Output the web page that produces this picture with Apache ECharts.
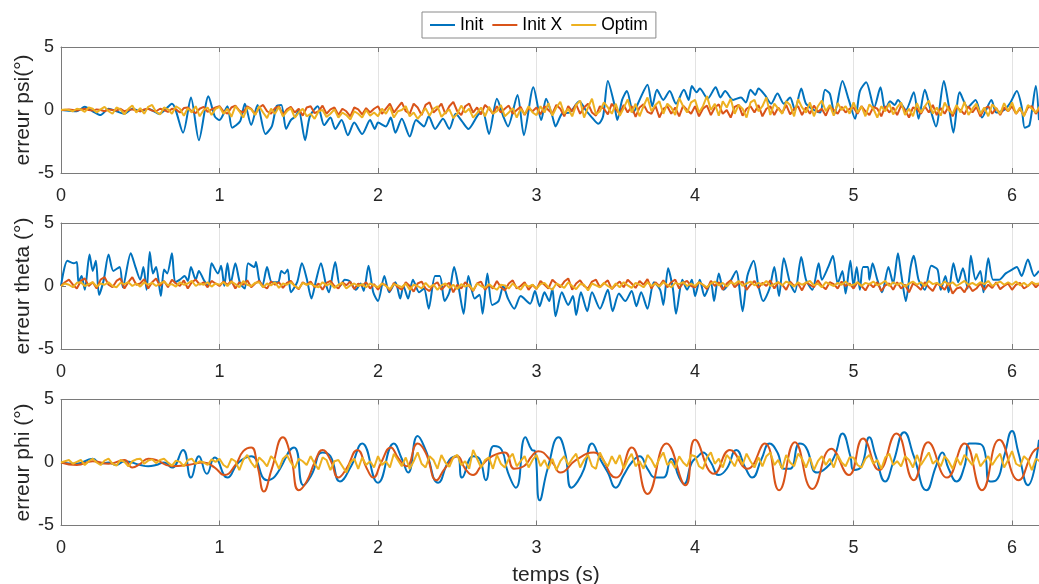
<!DOCTYPE html>
<html>
<head>
<meta charset="utf-8">
<script src="https://cdn.jsdelivr.net/npm/echarts@6/dist/echarts.min.js"></script>
<style>html,body{margin:0;padding:0;background:#fff}#c{width:1039px;height:584px}</style>
</head>
<body>
<div id="c"></div>
<script>
// ---- data ----
const seriesNames = ['Init', 'Init X', 'Optim'];
const panelLabels = ['erreur psi(°)', 'erreur theta (°)', 'erreur phi (°)'];
const xLabel = 'temps (s)';
const xTicks = [0, 1, 2, 3, 4, 5, 6];
const yTicks = [-5, 0, 5];
const xMax = 6.17;
const noiseStep = 0.025; // sampling of the noisy traces: one row per second, 40 values per row

// Init, psi : [t, value] at turning points
const psiInit = [[0,0],[0.1,-0.1],[0.15,0.25],[0.2,-0.1],[0.25,-0.4],[0.3,0.1],[0.35,-0.1],[0.4,-0.3],[0.45,0.1],[0.5,-0.1],[0.55,0.1],[0.62,-0.3],[0.7,0.5],[0.77,-1.8],[0.82,1.0],[0.87,-2.4],[0.93,1.1],[0.97,-0.5],[1.0,-0.8],[1.05,0.3],[1.08,-1.4],[1.13,-0.9],[1.16,0.5],[1.2,-1.2],[1.24,0.4],[1.29,-1.9],[1.33,-1.3],[1.36,0.3],[1.39,0.4],[1.42,-1.5],[1.45,-0.8],[1.48,-0.5],[1.5,0.0],[1.54,-2.4],[1.57,-0.5],[1.62,0.3],[1.66,-1.2],[1.7,-0.6],[1.73,-1.5],[1.77,-0.8],[1.81,-2.0],[1.85,-1.0],[1.9,-1.9],[1.95,-0.8],[1.98,-1.5],[2.0,-1.0],[2.05,-1.3],[2.08,-0.6],[2.11,-1.8],[2.15,-0.7],[2.2,-2.1],[2.24,-0.8],[2.29,-1.3],[2.32,-0.5],[2.36,-1.5],[2.41,-0.7],[2.45,-1.5],[2.49,-0.3],[2.53,-0.9],[2.57,-1.5],[2.63,-0.4],[2.66,-0.1],[2.7,-1.9],[2.75,0.9],[2.79,-0.5],[2.82,-1.3],[2.88,1.2],[2.92,-2.0],[2.98,1.8],[3.03,-0.8],[3.06,0.9],[3.1,-0.5],[3.12,-1.3],[3.16,-0.3],[3.21,-0.2],[3.27,0.7],[3.31,0.0],[3.35,-0.6],[3.39,-1.1],[3.42,-0.5],[3.45,2.3],[3.49,0.5],[3.51,-0.8],[3.54,0.8],[3.57,1.5],[3.61,-0.2],[3.65,0.8],[3.7,2.0],[3.73,0.3],[3.76,1.6],[3.8,0.8],[3.84,1.5],[3.88,0.5],[3.93,1.6],[3.96,0.8],[3.98,1.9],[4.01,1.4],[4.03,1.7],[4.08,0.9],[4.13,1.8],[4.16,1.0],[4.19,1.5],[4.24,0.8],[4.29,1.0],[4.32,0.6],[4.35,1.6],[4.38,1.2],[4.4,1.7],[4.44,1.2],[4.48,0.5],[4.52,1.3],[4.56,0.5],[4.6,1.0],[4.63,0.0],[4.67,1.7],[4.7,0.5],[4.75,0.0],[4.79,-0.2],[4.82,1.6],[4.85,1.3],[4.88,-0.3],[4.93,2.3],[4.97,0.8],[5.01,-0.7],[5.04,1.5],[5.08,2.2],[5.13,0.2],[5.17,1.8],[5.2,0.0],[5.23,0.7],[5.26,0.4],[5.28,0.8],[5.33,0.0],[5.38,1.4],[5.41,-0.7],[5.45,1.6],[5.48,0.3],[5.52,-1.3],[5.57,2.3],[5.6,0.4],[5.63,-1.8],[5.67,1.4],[5.72,0.2],[5.77,0.8],[5.81,-0.6],[5.87,0.8],[5.9,-0.2],[5.95,0.0],[5.99,0.6],[6.03,1.5],[6.06,0.3],[6.08,-1.4],[6.11,-1.2],[6.15,1.9],[6.17,-0.8]];

// Init X, psi : one row per second, noiseStep apart
const psiInitX = [
[0,0,0.05,0,-0.05,0.05,0.1,0,-0.05,0.05,0,-0.1,0.05,0,-0.05,0.1,-0.1,0,0.05,-0.05,-0.1,0.05,0.1,-0.05,-0.1,0.1,0,-0.15,0.1,0.05,-0.2,0.15,0.2,-0.1,-0.25,0.1,0.25,-0.15,0.05,0.2],
[0.3,-0.1,-0.3,0.2,0.35,-0.05,-0.2,0.3,0.1,-0.35,0.2,0.4,-0.1,-0.3,0.15,0.3,-0.4,0.05,0.25,-0.2,0.1,-0.45,0.2,0.3,-0.25,-0.1,0.35,-0.3,0.05,0.2,-0.4,0.1,-0.1,-0.5,0.2,0.05,-0.35,0.15,-0.2,0.1],
[0.3,-0.3,0.1,0.5,-0.2,0.2,0.6,-0.1,-0.3,0.5,0.2,-0.4,0.4,0.6,-0.2,0.1,0.5,-0.3,0.3,0.65,-0.1,-0.4,0.3,0.5,-0.2,0.2,-0.35,0.4,0.1,-0.3,0.3,-0.2,0.1,0.35,-0.3,0.0,0.25,-0.4,0.15,-0.1],
[0.2,-0.35,0.3,0.0,-0.3,0.4,0.1,-0.5,0.3,-0.1,0.45,-0.3,0.2,0.5,-0.2,-0.45,0.3,0.1,-0.35,0.5,0.05,-0.3,0.4,-0.2,0.3,-0.55,0.2,0.45,-0.15,-0.3,0.35,-0.6,0.1,0.3,-0.3,0.2,-0.5,0.35,0.0,-0.3],
[0.3,-0.5,0.1,0.35,-0.4,0.2,0.45,-0.3,0.0,-0.6,0.25,0.4,-0.45,0.1,0.3,-0.2,0.4,-0.5,0.1,0.3,-0.4,0.2,-0.25,0.4,-0.35,0.1,0.3,-0.4,0.2,-0.3,0.35,-0.15,0.1,-0.45,0.3,0.0,-0.3,0.25,-0.2,0.1],
[0.2,-0.3,0.3,-0.1,-0.4,0.25,0.1,-0.5,0.3,-0.2,0.2,-0.4,0.35,0.0,-0.6,0.2,0.1,-0.3,0.3,-0.2,0.4,-0.4,0.15,-0.3,0.3,-0.5,0.2,0.0,-0.35,0.3,-0.2,0.25,-0.5,0.1,0.3,-0.3,0.15,-0.4,0.2,-0.1],
[0.3,-0.3,0.1,-0.45,0.2,0.3,-0.3,0.1]];

// Optim, psi
const psiOptim = [
[0,0.05,0,-0.1,0.1,0.05,-0.15,0.2,0.1,-0.2,0.05,0.25,-0.1,-0.3,0.2,0.05,-0.35,0.1,0.35,-0.2,0.15,-0.3,0.25,0.4,-0.15,-0.35,0.2,0.05,-0.3,0.3,0.1,-0.45,0.15,-0.2,0.3,-0.5,0.0,0.2,-0.4,0.1],
[0.25,-0.3,0.1,-0.55,0.3,-0.1,-0.6,0.2,0.05,-0.4,0.3,-0.2,-0.65,0.1,-0.3,0.25,-0.5,-0.1,0.15,-0.6,-0.2,0.1,-0.5,-0.3,-0.7,-0.1,0.0,-0.55,-0.3,0.05,-0.6,-0.2,-0.4,-0.75,-0.1,-0.3,-0.6,0.0,-0.45,-0.2],
[-0.5,0.1,-0.3,0.25,-0.6,-0.1,0.0,0.3,-0.5,-0.2,-0.7,-0.3,0.15,-0.45,0.1,0.3,-0.55,-0.2,0.05,-0.65,-0.3,0.35,-0.2,0.1,-0.6,-0.25,0.2,-0.5,0.25,-0.3,-0.1,0.4,-0.5,-0.2,0.15,-0.6,0.1,-0.35,0.3,-0.2],
[-0.4,0.3,-0.2,0.55,-0.45,0.2,0.65,-0.3,0.1,-0.5,0.4,0.75,-0.6,0.2,0.9,-0.35,-0.1,0.6,0.2,-0.3,0.5,-0.45,0.15,0.85,-0.2,0.5,-0.5,0.3,1.0,-0.1,0.4,0.7,-0.3,0.5,0.2,-0.4,0.95,0.3,-0.2,0.6],
[0.8,-0.2,0.3,1.1,0.0,0.5,-0.45,0.7,0.2,0.9,-0.3,0.4,0.1,-0.6,0.6,0.8,-0.1,0.3,1.0,-0.4,0.5,0.1,-0.3,0.7,0.4,-0.5,0.85,0.2,-0.2,0.6,-0.5,0.3,0.75,-0.1,0.4,-0.45,0.55,0.0,0.3,-0.3],
[0.6,-0.2,0.3,-0.5,0.45,0.1,-0.6,0.3,-0.1,0.5,-0.35,0.2,0.6,-0.4,0.1,-0.5,0.55,-0.2,0.3,0.75,-0.3,0.2,-0.45,0.6,0.0,-0.3,0.4,-0.2,0.65,-0.4,0.1,0.5,-0.3,0.2,-0.5,0.45,0.1,-0.3,0.55,-0.1],
[0.6,-0.3,0.2,-0.5,0.4,0.1,-0.2,0.3]];

// Init, theta : [t, value] at turning points
const thetaInit = [[0,0],[0.04,2.0],[0.08,1.8],[0.1,1.9],[0.11,0.3],[0.13,0.8],[0.15,-0.3],[0.18,2.5],[0.2,1.2],[0.22,2.0],[0.24,-0.7],[0.27,0.5],[0.3,2.5],[0.33,1.2],[0.37,1.5],[0.39,-0.1],[0.44,2.6],[0.47,1.5],[0.5,0.5],[0.52,1.5],[0.54,-0.3],[0.56,2.7],[0.58,1.0],[0.6,1.5],[0.63,-0.8],[0.65,1.3],[0.67,1.0],[0.7,2.6],[0.72,0.3],[0.75,0.5],[0.78,0.8],[0.8,0.4],[0.82,1.5],[0.85,0.5],[0.87,1.2],[0.9,0.5],[0.93,0.0],[0.95,1.8],[0.99,1.0],[1.01,1.6],[1.03,0.0],[1.05,1.8],[1.07,0.2],[1.1,1.8],[1.13,0.2],[1.16,-0.2],[1.18,1.8],[1.22,1.5],[1.23,1.9],[1.25,0.5],[1.27,0.0],[1.3,1.5],[1.33,0.3],[1.37,0.3],[1.39,1.2],[1.41,1.0],[1.43,1.3],[1.45,-0.5],[1.49,0.3],[1.52,1.8],[1.55,0.6],[1.58,-1.0],[1.61,0.5],[1.64,1.8],[1.67,0.2],[1.69,-0.5],[1.73,1.9],[1.76,0.0],[1.79,0.5],[1.82,0.4],[1.86,-0.3],[1.89,0.2],[1.91,-0.4],[1.94,1.6],[1.97,-0.5],[2.0,-1.2],[2.04,0.8],[2.07,-0.5],[2.11,0.3],[2.14,-1.0],[2.16,0.0],[2.19,-1.0],[2.22,0.5],[2.26,-0.5],[2.29,-0.2],[2.32,-1.8],[2.36,0.8],[2.39,0.8],[2.42,-1.2],[2.45,-0.5],[2.48,1.5],[2.51,-0.2],[2.54,-2.2],[2.57,0.8],[2.61,-1.0],[2.64,-0.7],[2.66,-2.2],[2.69,1.0],[2.72,-1.5],[2.76,-1.2],[2.79,0.0],[2.82,-1.0],[2.86,-1.8],[2.9,-0.8],[2.96,-1.4],[2.99,-0.4],[3.02,-1.6],[3.05,-0.5],[3.08,-1.2],[3.1,-0.2],[3.12,-2.4],[3.16,-0.5],[3.2,-1.5],[3.23,-0.8],[3.25,-2.3],[3.28,-0.5],[3.32,-2.0],[3.35,-0.5],[3.4,-1.8],[3.45,-0.3],[3.48,-2.0],[3.52,-0.6],[3.56,-1.2],[3.6,-0.4],[3.63,-1.6],[3.66,-0.5],[3.7,-1.8],[3.74,0.3],[3.78,-0.3],[3.8,-1.5],[3.83,1.4],[3.86,-0.2],[3.88,-2.2],[3.92,0.5],[3.95,-0.3],[3.98,0.5],[4.0,-0.8],[4.03,0.5],[4.06,-0.8],[4.1,0.3],[4.12,-1.2],[4.15,1.0],[4.18,-0.3],[4.22,0.3],[4.26,1.2],[4.3,-2.0],[4.33,0.8],[4.37,2.0],[4.4,0.0],[4.43,-1.2],[4.47,-0.2],[4.5,1.5],[4.53,-0.8],[4.56,2.2],[4.6,0.2],[4.63,-0.5],[4.67,2.3],[4.7,0.5],[4.74,-0.3],[4.78,1.8],[4.8,0.5],[4.84,1.5],[4.87,2.4],[4.9,0.2],[4.93,1.2],[4.95,-0.6],[4.98,2.0],[5.0,0.0],[5.02,1.5],[5.04,-0.3],[5.06,1.5],[5.09,1.5],[5.1,0.5],[5.12,1.8],[5.15,0.5],[5.18,-0.5],[5.22,1.5],[5.25,0.2],[5.28,2.6],[5.3,1.0],[5.33,-1.2],[5.36,1.5],[5.38,2.4],[5.41,0.5],[5.45,-0.3],[5.49,1.6],[5.53,1.3],[5.55,-0.3],[5.58,0.8],[5.6,-0.5],[5.63,1.8],[5.66,0.3],[5.69,1.4],[5.72,-0.2],[5.74,2.4],[5.77,0.5],[5.8,1.2],[5.82,-0.5],[5.85,2.2],[5.88,0.5],[5.92,0.5],[5.96,1.0],[6.0,1.3],[6.03,1.5],[6.06,0.8],[6.1,2.1],[6.14,0.8],[6.17,1.2]];

// Init X, theta
const thetaInitX = [
[0,0.3,0.5,0.1,-0.2,0.4,0.6,0.0,0.3,-0.2,0.5,0.7,0.1,-0.1,0.4,0.6,-0.2,0.3,0.7,0.1,0.2,0.55,-0.2,0.3,0.6,0.0,0.4,-0.1,0.5,0.2,0.0,0.45,-0.2,0.3,0.5,0.1,0.3,-0.1,0.4,0.2],
[0.0,0.35,0.1,0.4,-0.2,0.3,0.1,0.45,-0.1,0.2,0.4,0.0,-0.2,0.35,0.1,0.3,-0.15,0.25,0.4,0.0,-0.25,0.3,0.1,0.35,-0.1,0.2,-0.3,0.25,0.4,0.0,-0.2,0.3,0.05,0.35,-0.25,0.2,0.0,0.3,-0.2,0.15],
[-0.3,0.2,0.05,-0.4,0.25,-0.1,-0.3,0.3,0.0,-0.45,0.2,0.35,-0.2,-0.4,0.1,0.3,-0.3,0.05,0.25,-0.5,0.1,-0.2,0.3,0.0,-0.4,0.2,0.35,-0.3,0.1,-0.2,0.4,-0.1,-0.35,0.2,0.45,-0.2,0.0,0.3,-0.3,0.1],
[-0.25,0.4,0.1,-0.2,0.5,0.2,-0.1,0.35,0.6,-0.3,0.2,0.45,0.0,-0.2,0.35,0.5,-0.1,0.2,0.45,-0.25,0.1,0.35,-0.1,0.5,0.2,-0.15,0.4,0.1,0.55,-0.2,0.3,0.0,0.45,-0.1,0.3,0.5,-0.2,0.25,0.4,0.0],
[-0.1,0.3,0.1,-0.25,0.4,0.0,0.3,-0.3,0.2,0.45,-0.1,0.2,0.35,-0.3,0.1,0.4,-0.15,0.25,0.0,0.45,-0.2,0.3,0.1,-0.3,0.35,0.0,0.2,-0.35,0.3,0.1,-0.1,0.45,0.0,-0.25,0.3,0.15,-0.2,0.35,0.0,0.2],
[-0.2,0.3,0.0,-0.35,0.2,-0.1,0.3,-0.4,0.05,0.2,-0.3,0.3,-0.2,0.1,-0.5,0.2,0.0,-0.3,0.3,-0.1,-0.4,0.2,0.0,-0.3,0.25,-0.6,-0.2,-0.1,-0.5,0.1,-0.4,-0.2,0.2,-0.3,0.1,-0.15,0.3,-0.25,0.0,0.2],
[-0.3,0.1,0.25,-0.2,0.0,0.3,-0.1,0.2]];

// Optim, theta
const thetaOptim = [
[0,0.2,0.1,-0.1,0.25,0.3,0.0,0.15,0.3,-0.05,0.2,0.1,0.3,0.0,-0.1,0.25,0.15,0.3,0.0,0.2,-0.05,0.3,0.1,0.25,0.0,0.2,0.35,0.05,0.15,-0.05,0.3,0.1,0.2,0.4,0.0,0.2,0.1,0.3,-0.05,0.2],
[0.1,0.3,0.0,0.35,0.15,-0.1,0.4,0.1,0.0,0.25,0.3,-0.1,0.2,0.05,0.3,-0.15,0.2,0.1,0.3,0.0,-0.2,0.25,0.1,0.2,0.0,-0.1,0.3,0.05,0.2,-0.15,0.1,0.25,-0.2,0.05,0.2,0.0,0.15,-0.1,0.2,0.05],
[-0.1,0.2,0.0,-0.25,0.15,0.05,-0.1,0.2,-0.3,0.1,0.0,-0.2,0.25,-0.1,0.1,-0.3,0.05,0.2,-0.15,0.1,-0.25,0.15,-0.05,0.1,-0.35,0.2,0.0,-0.15,0.15,-0.1,-0.3,0.1,0.05,-0.2,0.2,-0.1,-0.3,0.15,-0.05,0.1],
[-0.2,0.15,0.25,-0.1,-0.3,0.2,0.05,-0.15,0.3,0.0,-0.25,0.15,0.1,-0.35,0.2,0.05,-0.1,0.25,0.0,-0.2,0.2,-0.1,0.3,0.05,-0.15,0.25,0.1,-0.1,0.3,0.0,0.2,-0.05,0.3,0.1,-0.1,0.25,0.15,0.3,0.0,0.2],
[0.0,0.3,0.1,-0.1,0.2,0.35,0.05,0.25,-0.05,0.3,0.15,0.4,0.0,0.2,0.35,0.05,0.25,0.1,0.4,0.0,0.15,0.3,0.05,0.35,0.2,-0.05,0.3,0.1,0.25,0.4,0.05,0.2,-0.1,0.3,0.15,0.0,0.25,0.1,0.35,0.05],
[0.1,0.3,0.0,0.25,0.15,0.35,0.05,0.2,0.4,0.0,0.3,0.1,0.25,-0.05,0.2,0.35,0.1,0.3,0.0,0.4,0.15,0.25,0.05,0.35,0.1,0.3,0.0,0.2,0.4,0.1,0.25,0.05,0.3,0.15,0.4,0.0,0.2,0.35,0.1,0.3],
[0.1,0.35,0.05,0.25,0.0,0.3,0.15,0.2]];

// Init, phi : [t, value] at turning points
const phiInit = [[0,0],[0.1,-0.1],[0.2,0.3],[0.25,-0.1],[0.3,0.0],[0.35,-0.2],[0.4,0.1],[0.5,-0.2],[0.55,-0.3],[0.6,-0.2],[0.65,0.0],[0.7,-0.4],[0.77,1.0],[0.82,-1.2],[0.87,0.5],[0.92,-0.9],[0.97,0.4],[1.05,-1.2],[1.12,0.0],[1.2,0.5],[1.3,-1.4],[1.35,-1.1],[1.47,1.2],[1.53,-1.8],[1.58,-1.0],[1.65,0.8],[1.7,0.5],[1.76,-1.5],[1.83,-0.3],[1.9,1.5],[2.0,-1.6],[2.1,1.5],[2.15,0.3],[2.19,-0.8],[2.25,2.1],[2.3,1.0],[2.38,-1.6],[2.45,0.2],[2.5,0.5],[2.53,-1.2],[2.6,0.5],[2.64,0.3],[2.68,-1.4],[2.73,1.3],[2.78,1.0],[2.82,-0.8],[2.87,-2.0],[2.93,2.0],[2.97,1.0],[2.99,0.9],[3.02,-3.0],[3.07,-0.5],[3.14,2.0],[3.18,0.8],[3.22,-2.0],[3.26,-1.5],[3.3,-0.5],[3.35,1.5],[3.4,0.3],[3.45,-0.8],[3.5,-2.0],[3.55,-1.0],[3.6,0.0],[3.65,0.5],[3.7,-0.5],[3.75,-1.2],[3.8,-1.2],[3.85,0.3],[3.9,-1.2],[3.93,-1.7],[3.98,0.0],[4.02,0.5],[4.05,0.8],[4.1,0.0],[4.15,-1.0],[4.2,-0.5],[4.26,1.0],[4.32,-0.5],[4.36,-1.2],[4.42,0.3],[4.47,1.5],[4.52,0.8],[4.56,-0.5],[4.6,-0.5],[4.66,1.5],[4.7,1.2],[4.77,-0.8],[4.83,-0.4],[4.88,0.5],[4.93,2.3],[4.98,0.5],[5.0,-0.6],[5.05,-0.3],[5.1,2.0],[5.14,0.5],[5.2,-1.5],[5.25,0.0],[5.32,2.4],[5.38,0.5],[5.46,-2.2],[5.52,-0.3],[5.56,0.8],[5.6,-0.5],[5.65,-1.5],[5.7,-0.3],[5.73,1.5],[5.77,1.5],[5.82,1.2],[5.86,-1.5],[5.9,-1.4],[5.95,0.5],[6.0,2.5],[6.04,0.8],[6.1,-1.8],[6.17,1.8]];

// Init X, phi : [t, value] at turning points
const phiInitX = [[0,0],[0.1,-0.2],[0.2,0.1],[0.3,-0.1],[0.4,0.2],[0.45,-0.4],[0.5,-0.1],[0.55,0.3],[0.6,0.2],[0.7,-0.3],[0.8,-0.2],[0.9,0.0],[0.97,-0.4],[1.03,-1.0],[1.1,-0.2],[1.15,0.9],[1.2,1.2],[1.24,-0.3],[1.28,-2.3],[1.33,-0.5],[1.4,2.0],[1.45,0.5],[1.5,-2.2],[1.55,-1.5],[1.6,0.0],[1.65,1.0],[1.7,0.2],[1.75,-1.2],[1.8,-0.5],[1.87,1.0],[1.93,-0.5],[1.97,-1.2],[2.02,0.0],[2.08,1.2],[2.13,0.3],[2.18,-0.3],[2.25,1.5],[2.3,0.8],[2.37,-1.4],[2.42,-0.5],[2.5,0.5],[2.55,-0.5],[2.6,-1.0],[2.65,-0.3],[2.72,0.5],[2.8,0.8],[2.86,-0.5],[2.92,-0.3],[2.97,0.5],[3.01,0.9],[3.1,0.0],[3.15,-0.8],[3.25,0.2],[3.36,0.8],[3.5,-1.2],[3.6,1.2],[3.7,-2.5],[3.82,1.5],[3.94,-1.8],[4.0,1.8],[4.12,-0.9],[4.22,1.0],[4.33,-0.5],[4.44,1.5],[4.53,-2.2],[4.63,1.6],[4.74,-2.1],[4.86,1.1],[4.97,-1.0],[5.06,1.9],[5.16,-0.6],[5.27,2.3],[5.38,-1.4],[5.47,1.6],[5.59,-1.2],[5.7,1.5],[5.81,-2.2],[5.92,1.8],[6.04,-1.4],[6.13,0.8],[6.17,1.2]];

// Optim, phi
const phiOptim = [
[0,0.1,0.2,-0.1,0.05,0.2,-0.2,0.1,0.3,0.0,-0.2,0.15,0.3,-0.1,-0.25,0.2,0.05,-0.3,0.1,0.25,0.3,-0.1,0.15,0.25,-0.05,0.2,0.3,0.0,-0.25,0.15,0.05,-0.3,0.2,0.3,-0.1,0.1,0.0,-0.2,0.25,0.05],
[0.3,-0.2,-0.4,0.3,0.1,-0.6,0.2,0.6,0.0,-0.4,0.4,0.1,-0.3,0.5,0.2,-0.5,0.3,0.6,0.0,-0.45,0.3,0.1,-0.2,0.5,-0.1,-0.55,0.4,0.2,-0.6,0.1,0.2,-0.3,-0.8,0.0,0.3,-0.5,0.4,-0.2,0.1,-0.4],
[0.5,-0.2,0.1,-0.4,0.7,0.2,-0.3,0.4,-0.5,0.1,0.8,-0.1,-0.4,0.5,0.2,-0.5,0.6,0.0,-0.35,0.4,0.6,-0.2,0.1,-0.5,1.0,0.3,-0.4,0.2,0.4,-0.5,0.6,-0.1,-0.4,0.3,0.7,-0.3,0.1,0.5,-0.4,0.2],
[0.6,-0.3,0.2,-0.5,0.3,-0.6,0.1,0.5,-0.2,0.3,0.7,-0.4,0.2,0.6,-0.3,-0.5,0.8,0.1,-0.3,0.5,-0.1,0.6,-0.5,0.2,0.7,-0.3,0.1,-0.5,0.6,0.2,-0.4,0.3,0.8,-0.2,0.1,-0.45,0.5,0.0,-0.3,0.6],
[0.5,-0.3,-0.5,0.4,0.8,-0.1,0.3,-0.4,0.6,0.2,-0.3,0.5,-0.2,0.7,0.1,-0.4,0.4,-0.3,0.5,0.8,-0.2,0.2,-0.5,0.6,0.0,-0.3,0.7,0.3,-0.4,0.4,-0.6,0.1,0.5,-0.2,0.3,-0.4,0.6,0.0,-0.3,0.4],
[0.4,-0.2,-0.4,0.3,0.6,-0.1,0.2,-0.5,0.4,0.7,-0.2,0.1,-0.3,0.5,0.2,-0.4,0.6,-0.2,0.3,0.8,-0.1,0.2,-0.3,0.5,0.1,-0.5,0.4,-0.2,0.6,0.2,-0.2,0.7,-0.3,0.1,0.5,-0.2,0.3,0.7,-0.4,0.2],
[0.9,-0.1,-0.3,0.5,0.2,-0.6,0.3,0.1]];

// ---- chart construction ----
const colors = ['#0072BD', '#D95319', '#EDB120'];
const FONT = '"Liberation Sans", Arial, Helvetica, sans-serif';
const TXT = '#262626';
const AX = '#7a7a7a';
// rows of one second each -> [t, value] pairs
const sampled = rows => {
  const out = [];
  rows.forEach((row, s) => row.forEach((v, j) => out.push([+(s + j * noiseStep).toFixed(3), v])));
  return out;
};

const panels = [
  { init: psiInit, initX: sampled(psiInitX), optim: sampled(psiOptim), smoothInit: 0.25, smoothX: false },
  { init: thetaInit, initX: sampled(thetaInitX), optim: sampled(thetaOptim), smoothInit: 0.25, smoothX: false },
  { init: phiInit, initX: phiInitX, optim: sampled(phiOptim), smoothInit: 0.5, smoothX: 0.5 }
];

const tops = [47, 223, 399.5];
const grids = [], xAxes = [], yAxes = [], series = [];
panels.forEach((p, k) => {
  grids.push({ left: 61, right: 0, top: tops[k], height: 126, containLabel: false, outerBoundsMode: 'none' });
  xAxes.push({
    type: 'value', gridIndex: k, min: xTicks[0], max: xMax, interval: 1, position: 'bottom',
    name: k === 2 ? xLabel : '', nameLocation: 'middle', nameGap: 39, nameMoveOverlap: false,
    nameTextStyle: { fontFamily: FONT, fontSize: 21, color: TXT, padding: [0, 0, 0, 12] },
    axisLine: { show: true, onZero: false, lineStyle: { color: AX, width: 1 } },
    axisTick: { show: true, inside: true, length: 5, lineStyle: { color: AX } },
    axisLabel: { show: true, fontFamily: FONT, fontSize: 18, color: TXT, margin: 14, showMaxLabel: false },
    splitLine: { show: true, lineStyle: { color: '#e3e3e3', width: 1 } }
  });
  xAxes.push({
    type: 'value', gridIndex: k, min: xTicks[0], max: xMax, interval: 1, position: 'top',
    axisLine: { show: true, onZero: false, lineStyle: { color: AX, width: 1 } },
    axisTick: { show: true, inside: true, length: 5, lineStyle: { color: AX } },
    axisLabel: { show: false }, splitLine: { show: false }
  });
  yAxes.push({
    type: 'value', gridIndex: k, min: yTicks[0], max: yTicks[yTicks.length - 1], interval: 5,
    name: panelLabels[k], nameLocation: 'middle', nameGap: 27, nameRotate: 90, nameMoveOverlap: false,
    nameTextStyle: { fontFamily: FONT, fontSize: 21, color: TXT },
    axisLine: { show: true, onZero: false, lineStyle: { color: AX, width: 1 } },
    axisTick: { show: true, inside: true, length: 5, lineStyle: { color: AX } },
    axisLabel: { fontFamily: FONT, fontSize: 18, color: TXT, margin: 7 },
    splitLine: { show: false }
  });
  const mk = (name, data, color, smooth, width, z) => ({
    name, type: 'line', xAxisIndex: 2 * k, yAxisIndex: k, data,
    showSymbol: false, symbol: 'none', smooth, animation: false, z,
    lineStyle: { color, width }, itemStyle: { color }, clip: true
  });
  series.push(mk(seriesNames[0], p.init, colors[0], p.smoothInit, 2, 2));
  series.push(mk(seriesNames[1], p.initX, colors[1], p.smoothX, 2, 3));
  series.push(mk(seriesNames[2], p.optim, colors[2], false, 2, 4));
});

const chart = echarts.init(document.getElementById('c'), null, { renderer: 'canvas' });
chart.setOption({
  animation: false,
  backgroundColor: '#fff',
  color: colors,
  grid: grids, xAxis: xAxes, yAxis: yAxes, series,
  legend: {
    data: seriesNames, left: 422, top: 12, orient: 'horizontal',
    icon: 'path://M0 0H25V2H0Z', itemWidth: 25, itemHeight: 2, itemGap: 9,
    padding: [4, 8, 4, 8], borderColor: '#8a8a8a', borderWidth: 1, backgroundColor: '#fff',
    textStyle: { fontFamily: FONT, fontSize: 17.5, color: '#000' }
  }
});
</script>
</body>
</html>
